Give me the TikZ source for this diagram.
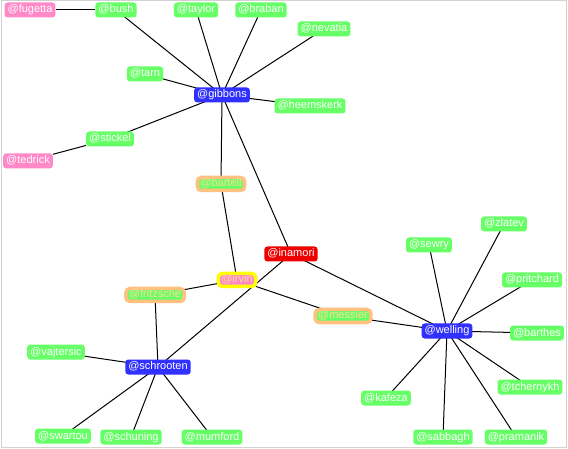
\documentclass[tikz,border=0pt]{standalone}
\usepackage{fontspec}
\setmainfont{Liberation Sans}
\usetikzlibrary{backgrounds}

\definecolor{usergreen}{RGB}{102,255,102}
\definecolor{userblue}{RGB}{48,48,255}
\definecolor{userred}{RGB}{238,0,0}
\definecolor{userpink}{RGB}{255,136,200}
\definecolor{userorange}{RGB}{255,192,128}
\definecolor{useryellow}{RGB}{255,255,0}
\definecolor{paleorange}{RGB}{255,220,150}

\tikzset{
    user/.style={rectangle, rounded corners=3pt, fill=usergreen, text=white,
        font=\fontsize{11}{13}\selectfont, inner xsep=3pt, inner ysep=2.5pt,
        text height=8pt, text depth=2pt},
    hub/.style={user, fill=userblue},
    outsider/.style={user, fill=userpink},
    focus/.style={user, fill=userred},
    bridge/.style={user, draw=userorange, line width=3.5pt, text=paleorange,
        inner ysep=1.5pt, rounded corners=4pt},
    seed/.style={bridge, draw=useryellow, fill=userpink},
    link/.style={line width=1pt}
}

\begin{document}
\begin{tikzpicture}[x=1pt, y=-1pt]
    \useasboundingbox (0,0) rectangle (568,449);
    \draw[gray!35, line width=1pt] (1,1) rectangle (566,447);

    % Upper group.
    \node[outsider] (fugetta) at (30,10) {@fugetta};
    \node[user] (bush) at (116,10) {@bush};
    \node[user] (taylor) at (196,10) {@taylor};
    \node[user] (braban) at (261,10) {@braban};
    \node[user] (nevatia) at (324,29) {@nevatia};
    \node[user] (tarn) at (145,74) {@tarn};
    \node[hub] (gibbons) at (222,95) {@gibbons};
    \node[user] (heemskerk) at (310,106) {@heemskerk};
    \node[user] (stickel) at (110,139) {@stickel};
    \node[outsider] (tedrick) at (28,161) {@tedrick};

    % Middle.
    \node[bridge] (bartell) at (221,184) {@bartell};
    \node[focus] (inamori) at (291,254) {@inamori};
    \node[seed] (irvin) at (237,280) {@irvin};
    \node[bridge] (fritzsche) at (155,295) {@fritzsche};
    \node[bridge] (messier) at (343,316) {@messier};

    % Lower left group.
    \node[user] (vajtersic) at (56,352) {@vajtersic};
    \node[hub] (schrooten) at (158,367) {@schrooten};
    \node[user] (swartou) at (63,436) {@swartou};
    \node[user] (schuning) at (131,437) {@schuning};
    \node[user] (mumford) at (212,437) {@mumford};

    % Right group.
    \node[user] (sewry) at (429,245) {@sewry};
    \node[user] (zlatev) at (504,224) {@zlatev};
    \node[user] (pritchard) at (532,280) {@pritchard};
    \node[hub] (welling) at (447,331) {@welling};
    \node[user] (barthes) at (537,333) {@barthes};
    \node[user] (tchernykh) at (530,387) {@tchernykh};
    \node[user] (kafeza) at (386,398) {@kafeza};
    \node[user] (sabbagh) at (443,437) {@sabbagh};
    \node[user] (pramanik) at (516,437) {@pramanik};

    % Connections.
    \begin{scope}[on background layer]
        \draw[link] (fugetta) -- (bush);
        \foreach \u in {bush,taylor,braban,nevatia,tarn,heemskerk,stickel,bartell,inamori}
            \draw[link] (gibbons.center) -- (\u.center);
        \draw[link] (tedrick) -- (stickel);
        \draw[link] (bartell.center) -- (irvin.center);
        \draw[link] (irvin.center) -- (fritzsche.center);
        \draw[link] (irvin.center) -- (messier.center);
        \draw[link] (schrooten.center) -- (inamori.center);
        \draw[link] (inamori.center) -- (welling.center);
        \draw[link] (messier.center) -- (welling.center);
        \foreach \u in {fritzsche,vajtersic,swartou,schuning,mumford}
            \draw[link] (schrooten.center) -- (\u.center);
        \foreach \u in {sewry,zlatev,pritchard,barthes,tchernykh,pramanik,sabbagh,kafeza}
            \draw[link] (welling.center) -- (\u.center);
    \end{scope}
\end{tikzpicture}
\end{document}
